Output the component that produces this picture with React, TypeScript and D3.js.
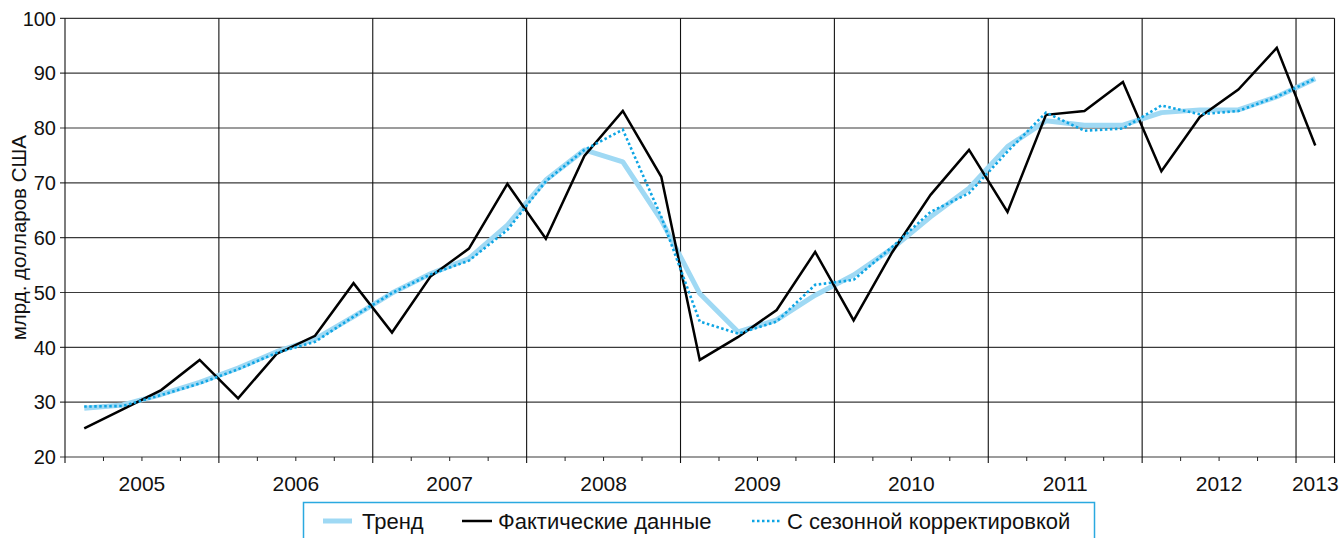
import React from "react";
import * as d3 from "d3";

const years = ["2005", "2006", "2007", "2008", "2009", "2010", "2011", "2012", "2013"];
const quarters = years.flatMap((y) => ["I", "II", "III", "IV"].map((q) => `${y} ${q}`)).slice(0, 33);

const actual = [
  25.2, 28.7, 32.2, 37.7, 30.7, 38.8, 42.1, 51.7, 42.7, 52.9, 58.0, 69.8, 59.8, 74.9, 83.1, 71.1,
  37.7, 41.9, 46.8, 57.4, 44.9, 57.3, 67.8, 76.0, 64.7, 82.4, 83.1, 88.4, 72.1, 82.0, 87.0, 94.6, 76.8,
];
const trend = [
  28.9, 29.5, 31.4, 33.6, 36.2, 39.2, 41.5, 45.6, 49.9, 53.4, 56.2, 62.3, 70.5, 76.0, 73.8, 63.2,
  49.8, 42.8, 45.0, 49.5, 53.2, 58.0, 63.8, 69.0, 76.6, 81.3, 80.5, 80.5, 82.8, 83.3, 83.3, 85.7, 89.0,
];
const seasonal = [
  29.2, 29.3, 31.3, 33.4, 36.0, 39.0, 41.0, 45.6, 49.9, 53.3, 55.8, 61.4, 70.3, 76.0, 79.7, 63.8,
  44.7, 42.5, 44.7, 51.4, 52.3, 58.3, 64.7, 68.1, 75.7, 82.8, 79.5, 79.9, 84.1, 82.5, 83.1, 85.7, 89.0,
];
const yTicks = [20, 30, 40, 50, 60, 70, 80, 90, 100];
const legendItems = ["Тренд", "Фактические данные", "С сезонной корректировкой"];

const FONT = "'Liberation Sans', Arial, Helvetica, sans-serif";
const L = 65, R = 1334.5, T = 18.3, B = 457;

export default function App() {
  const x = d3.scaleBand<string>().domain(quarters).range([L, R]).padding(0);
  const bw = x.bandwidth();
  const cx = (i: number) => (x(quarters[i]) as number) + bw / 2;
  const y = d3.scaleLinear().domain([20, 100]).range([B, T]);
  const line = d3
    .line<number>()
    .x((_, i) => cx(i))
    .y((d) => y(d));

  const yearStart = years.map((_, k) => x(quarters[k * 4]) as number);
  const yearEnd = years.map((_, k) => (k < 8 ? (x(quarters[k * 4 + 4]) as number) : R));

  return (
    <svg
      width={1341}
      height={538}
      style={{ position: "absolute", left: 0, top: 0, background: "#fff" }}
      fontFamily={FONT}
    >
      {/* horizontal grid + y ticks */}
      {yTicks.map((t) => (
        <g key={t}>
          <line x1={L - 5} x2={R} y1={y(t)} y2={y(t)} stroke="#3a3a3a" strokeWidth={1.2} />
          <text x={56} y={y(t)} dy="0.36em" textAnchor="end" fontSize={20} fill="#111">
            {t}
          </text>
        </g>
      ))}
      {/* vertical grid at years */}
      {yearStart.map((xs, k) => (
        <line key={k} x1={xs} x2={xs} y1={T} y2={B + 6} stroke="#111" strokeWidth={1.1} />
      ))}
      <line x1={R} x2={R} y1={T} y2={B + 6} stroke="#111" strokeWidth={1.1} />
      {/* minor quarter ticks */}
      {quarters.map((q, i) =>
        i % 4 !== 0 ? (
          <line key={q} x1={x(q) as number} x2={x(q) as number} y1={B} y2={B + 4} stroke="#222" strokeWidth={1} />
        ) : null
      )}
      {/* year labels */}
      {years.map((yr, k) => (
        <text key={yr} x={(yearStart[k] + yearEnd[k]) / 2} y={491} textAnchor="middle" fontSize={21} fill="#111">
          {yr}
        </text>
      ))}
      <text
        transform={`translate(26,${(T + B) / 2}) rotate(-90)`}
        textAnchor="middle"
        fontSize={20.5}
        fill="#111"
      >
        млрд. долларов США
      </text>

      {/* series */}
      <path d={line(trend) as string} fill="none" stroke="#9fd9f4" strokeWidth={5} strokeLinejoin="round" />
      <path d={line(actual) as string} fill="none" stroke="#000" strokeWidth={2.5} strokeLinejoin="miter" />
      <path
        d={line(seasonal) as string}
        fill="none"
        stroke="#0ea5e4"
        strokeWidth={2.6}
        strokeDasharray="2.5,2.5"
      />

      {/* legend */}
      <rect x={303.5} y={502.5} width={791} height={50} fill="#fff" stroke="#2aa9e0" strokeWidth={1.5} />
      <line x1={323} x2={352} y1={521} y2={521} stroke="#9fd9f4" strokeWidth={5} />
      <text x={362} y={521} dy="0.36em" fontSize={22} fill="#111">{legendItems[0]}</text>
      <line x1={462} x2={492} y1={521} y2={521} stroke="#000" strokeWidth={2.5} />
      <text x={498} y={521} dy="0.36em" fontSize={22} fill="#111">{legendItems[1]}</text>
      <line x1={752} x2={780} y1={521} y2={521} stroke="#0ea5e4" strokeWidth={2.4} strokeDasharray="2.5,2.5" />
      <text x={787} y={521} dy="0.36em" fontSize={22} fill="#111">{legendItems[2]}</text>
    </svg>
  );
}
